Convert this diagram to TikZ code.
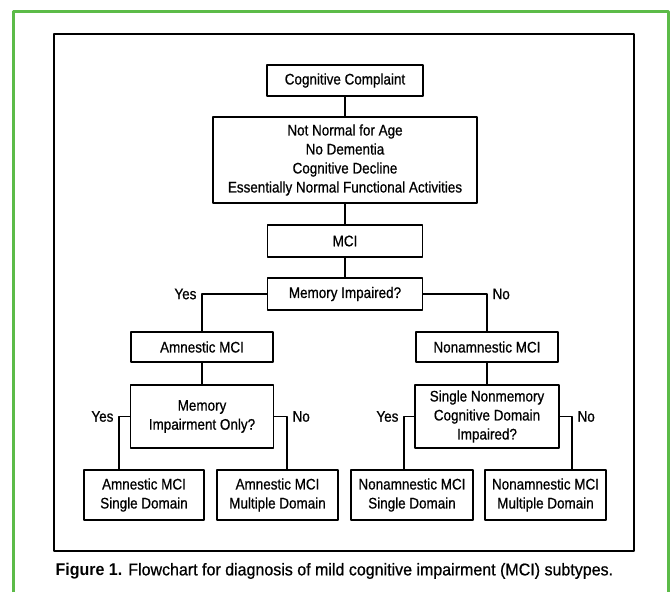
\documentclass[tikz,border=0pt]{standalone}
\usepackage{fontspec}
\setmainfont{Liberation Sans}[FakeStretch=0.88, UprightFeatures={FakeBold=0.7}]
\definecolor{framegreen}{RGB}{92,187,72}
\tikzset{
  box/.style={draw, line width=1.2pt, inner sep=0pt, align=center},
  answer/.style={inner sep=5pt}
}
\begin{document}
\begin{tikzpicture}[x=1pt, y=-1pt, font=\fontsize{15.3}{19}\selectfont, line join=round, line width=1.2pt]
	\useasboundingbox (0,0) rectangle (671,592);
	\draw[framegreen, line width=3pt] (13,592)--(13,11)--(668,11)--(668,592);
	\draw (54,34) rectangle (634,551);
	
	\node[box, minimum width=156, minimum height=31] (complaint) at (345,80.5) {Cognitive Complaint};
	\node[box, minimum width=264, minimum height=86] (criteria) at (345,160) {Not Normal for Age\\No Dementia\\Cognitive Decline\\Essentially Normal Functional Activities};
	\node[box, minimum width=155, minimum height=32] (mci) at (345,241) {MCI};
	\node[box, minimum width=155, minimum height=32] (memq) at (345,294) {Memory Impaired?};
	\node[box, minimum width=142, minimum height=30] (amn) at (202,347) {Amnestic MCI};
	\node[box, minimum width=142, minimum height=30] (nonamn) at (487,347) {Nonamnestic MCI};
	\node[box, minimum width=143, minimum height=63] (amnq) at (202,416.5) {Memory\\Impairment Only?};
	\node[box, minimum width=144, minimum height=63] (nonq) at (487,416.5) {Single Nonmemory\\Cognitive Domain\\Impaired?};
	\node[box, minimum width=120, minimum height=50] (amnsd) at (144,495) {Amnestic MCI\\Single Domain};
	\node[box, minimum width=121, minimum height=50] (amnmd) at (277.5,495) {Amnestic MCI\\Multiple Domain};
	\node[box, minimum width=122, minimum height=50] (nonsd) at (412,495) {Nonamnestic MCI\\Single Domain};
	\node[box, minimum width=121, minimum height=50] (nonmd) at (545.5,495) {Nonamnestic MCI\\Multiple Domain};
	
	\path 
	(119,470) coordinate (A1)
	(287,470) coordinate (A2)
	(404,470) coordinate (N1)
	(572,470) coordinate (N2)
	(amn.north |- memq.west) coordinate (YA)
	(nonamn.north |- memq.east) coordinate (NA)
	(A1 |- amnq.west) coordinate (YB)
	(A2 |- amnq.east) coordinate (NB)
	(N1 |- nonq.west) coordinate (YC)
	(N2 |- nonq.east) coordinate (NC)
	;
	
	\draw (complaint)--(criteria);
	\draw (criteria)--(mci);
	\draw (mci)--(memq);
	\draw (memq.west) -| (amn.north);
	\draw (memq.east) -| (nonamn.north);
	\draw (amn)--(amnq);
	\draw (nonamn)--(nonq);
	\draw (amnq.west) -| (A1);
	\draw (amnq.east) -| (A2);
	\draw (nonq.west) -| (N1);
	\draw (nonq.east) -| (N2);
	
	\foreach \c/\side/\lab in {YA/left/Yes,NA/right/No,YB/left/Yes,NB/right/No,YC/left/Yes,NC/right/No}{
		\node[answer, \side] (l\c) at (\c) {\lab};
	}
	
	\node[anchor=west, inner sep=0pt, font=\fontsize{17}{20}\selectfont, xscale=1.07] (caption) at (55,571) {\textbf{Figure 1.} Flowchart for diagnosis of mild cognitive impairment (MCI) subtypes.};
\end{tikzpicture}
\end{document}
